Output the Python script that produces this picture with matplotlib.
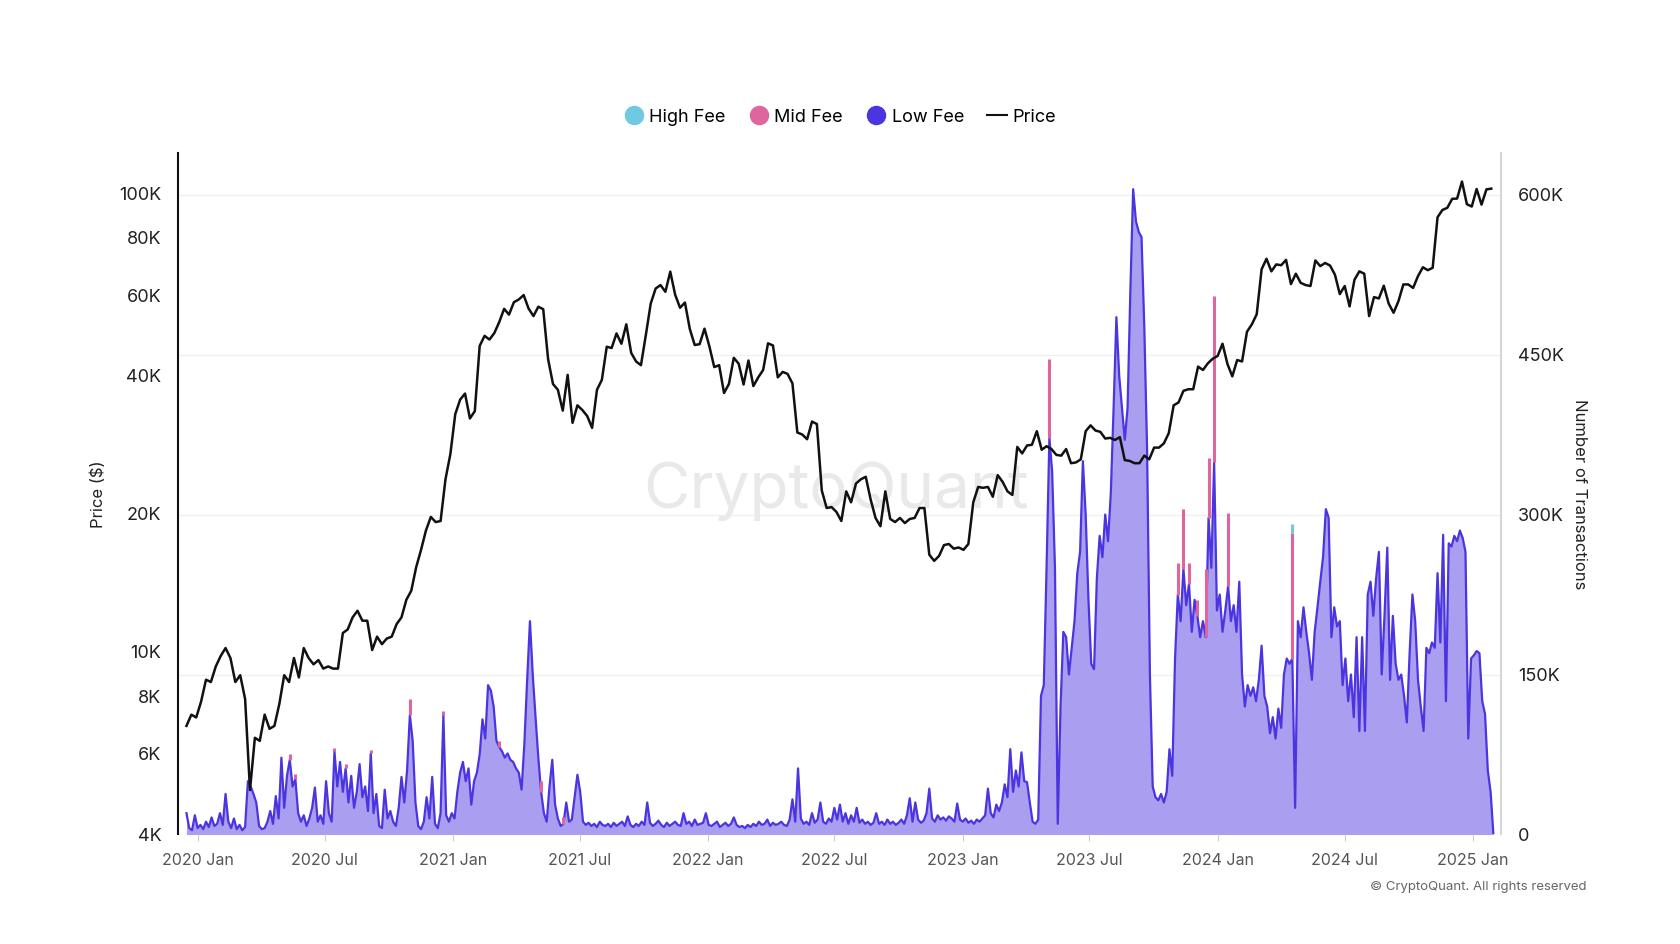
import numpy as np
import pandas as pd
import matplotlib
matplotlib.use('Agg')
import matplotlib.pyplot as plt
from matplotlib.lines import Line2D
from matplotlib.ticker import FixedLocator, FuncFormatter, NullLocator

plt.rcParams['font.family'] = ['Inter', 'DejaVu Sans']

# BTC price, weekly, in thousands of USD
price_start = '2019-12-16'
price_k = [
    6.9, 7.3, 7.2,
    # 2020
    7.8, 8.7, 8.6, 9.3, 9.8, 10.2, 9.7, 8.6, 8.9, 7.9, 5.0, 6.5, 6.4, 7.3, 6.8, 6.9, 7.7, 8.9,
    8.6, 9.7, 8.8, 10.2, 9.7, 9.4, 9.6, 9.2, 9.3, 9.2, 9.2, 11.0, 11.2, 11.9, 12.3, 11.7, 11.7,
    10.1, 10.8, 10.4, 10.7, 10.8, 11.5, 11.9, 13.0, 13.6, 15.3, 16.7, 18.4, 19.7, 19.2, 19.3,
    23.8, 27.0,
    # 2021
    33.0, 35.5, 36.6, 32.3, 33.5, 46.5, 48.9, 48.0, 49.6, 52.4, 56.0, 54.4, 57.9, 58.7, 60.0,
    56.1, 54.0, 56.6, 55.9, 43.5, 38.4, 37.3, 33.6, 40.2, 31.6, 34.5, 33.7, 32.7, 30.8, 37.3,
    39.2, 46.3, 46.0, 49.5, 47.0, 51.8, 44.9, 43.0, 42.2, 49.1, 57.5, 62.0, 63.1, 61.0, 67.5,
    60.1, 56.3, 57.8, 50.6, 46.7, 46.9, 50.7,
    # 2022
    46.4, 41.8, 42.2, 36.7, 38.4, 43.8, 42.5, 38.3, 43.2, 38.0, 39.7, 41.2, 47.1, 46.6, 39.7,
    40.8, 40.4, 38.5, 30.1, 29.8, 29.1, 31.8, 31.4, 22.5, 20.6, 20.7, 20.2, 19.3, 22.4, 21.2,
    23.3, 23.8, 24.1, 21.5, 19.6, 18.8, 22.4, 19.5, 19.2, 19.6, 19.1, 19.5, 19.6, 20.6, 20.6,
    16.3, 15.8, 16.2, 17.1, 17.2, 16.8, 16.9,
    # 2023
    16.7, 17.2, 21.2, 22.9, 22.8, 22.9, 21.8, 24.3, 23.5, 22.4, 22.0, 28.0, 27.1, 28.2, 28.3,
    30.3, 27.6, 28.1, 27.7, 26.9, 26.8, 27.7, 25.8, 25.9, 26.3, 30.3, 31.2, 30.4, 30.2, 29.2,
    29.3, 29.0, 29.4, 26.2, 26.1, 25.8, 25.8, 26.8, 26.3, 27.9, 27.9, 28.5, 30.0, 34.5, 35.0,
    37.1, 37.4, 37.4, 41.9, 41.2, 42.6, 43.6,
    # 2024
    44.2, 47.0, 42.5, 39.9, 43.3, 43.0, 49.9, 51.8, 54.5, 68.3, 72.0, 67.6, 70.0, 69.7, 71.6,
    63.4, 66.8, 63.8, 63.1, 62.8, 71.4, 69.4, 70.5, 69.6, 66.5, 60.3, 62.8, 56.7, 64.8, 67.6,
    66.8, 54.0, 59.4, 59.0, 62.9, 57.5, 54.9, 58.2, 63.3, 63.3, 62.2, 66.0, 69.0, 68.0, 68.8,
    88.7, 92.0, 93.0, 97.3, 97.4, 106.1, 94.7, 93.6,
    # 2025
    102.2, 94.5, 102.0, 102.4,
]

# low fee transactions, one value every 4 days, in thousands
tx_start = '2019-12-16'
low_fee_k = [
    20, 6, 4, 18, 6, 9, 5, 12, 7, 16, 8, 10, 20, 9, 38, 12, 6, 15, 5, 9, 4, 7,
    50, 45, 38, 30, 8, 5, 6, 12, 22, 10, 36, 15, 72, 25, 55, 70, 45, 52, 20, 12, 18, 8, 15, 25, 44,
    12, 18, 10, 50, 20, 12, 78, 45, 68, 40, 62, 30, 55, 25, 40, 66, 35, 45, 22, 76,
    20, 38, 8, 6, 42, 15, 22, 12, 8, 25, 54, 30, 60, 112, 88, 30, 8, 5, 12, 35,
    15, 54, 10, 6, 20, 112, 18, 12, 20,
    15, 40, 58, 68, 50, 62, 28, 50, 58, 75, 108, 90, 140, 135, 120, 88, 82, 78, 72, 76,
    70, 68, 62, 58, 42, 85, 145, 200, 150, 110, 72, 40, 20, 12, 45, 70, 28, 15, 8, 10,
    30, 12, 14, 35, 56,
    40, 12, 9, 11, 8, 10, 7, 12, 9, 8, 10, 7, 11, 8, 10, 12, 8, 17, 9, 7,
    10, 8, 12, 9, 30, 11, 8, 10, 13, 9, 7, 11, 8, 10, 12, 9, 8, 20, 10, 12,
    8, 14, 9, 10, 11, 20, 9, 8, 10, 12, 7, 9, 11, 8, 10, 16, 9, 7, 8, 6,
    9, 7, 10, 8, 12, 9, 10, 14, 8, 11, 9, 10, 12, 9, 8, 14, 33, 12, 62, 15,
    10, 12, 9, 20, 11, 14, 30, 12, 10, 15, 12, 25, 14, 28, 12, 20, 10, 18, 12, 25,
    11, 14, 10, 12, 9, 11, 20, 10, 12, 9, 14, 10, 12, 9, 11, 14, 10, 18, 34, 12,
    30, 14, 11, 13, 20, 43, 15, 12, 18, 14, 16, 13, 17, 15, 12, 29, 14, 12, 15, 11,
    13, 10, 14, 12, 15, 18, 43, 20, 16, 28, 22, 30, 47, 35, 80, 40, 60, 45, 77, 50,
    49, 30, 12, 10, 14, 130, 140, 251, 372, 340,
    250, 10, 120, 190, 185, 150, 175, 200, 245, 265,
    350, 300, 220, 160, 155, 240, 280, 260, 300, 275,
    320, 400, 485, 430, 400, 370, 400, 510, 605, 575,
    565, 560, 475, 360, 150, 45, 35, 32, 38, 30,
    40, 80, 55, 165, 225, 200, 249, 215, 235, 190,
    220, 205, 185, 200, 185, 297, 250, 349, 210, 225,
    190, 210, 233, 200, 215, 190, 237, 150, 120, 140,
    130, 138, 125, 145, 177, 130, 120, 95, 110, 90, 118, 100,
    150, 165, 160, 165, 25, 200, 185, 213, 190, 170,
    145, 190, 213, 237, 260, 305, 297, 185, 213, 195,
    200, 140, 165, 125, 150, 110, 185, 97, 185, 97,
    225, 237, 205, 240, 265, 150, 205, 269, 145, 205,
    160, 145, 150, 130, 105, 170, 225, 200, 145, 120,
    97, 175, 170, 180, 175, 245, 180, 281, 125, 273,
    270, 280, 275, 285, 278, 265, 90, 165, 168, 172,
    170, 125, 113, 60, 40, 0,
]

# mid / high fee transactions on top of low fee, in thousands
mid_fee_dates = ['2020-05-12', '2020-05-20', '2020-07-15', '2020-07-31', '2020-09-05',
                 '2020-10-31', '2020-12-18', '2021-03-08', '2021-05-07', '2021-06-08',
                 '2023-05-06', '2023-11-05', '2023-11-13', '2023-11-21', '2023-12-03',
                 '2023-12-15', '2023-12-19', '2023-12-27', '2024-01-16', '2024-04-17']
mid_fee_k = [5, 5, 3, 4, 3, 15, 4, 6, 10, 6, 74, 30, 56, 20, 15, 64, 56, 156, 68, 118]
high_fee_dates = ['2024-04-17']
high_fee_k = [8]

x_ticks = ['2020-01-01', '2020-07-01', '2021-01-01', '2021-07-01', '2022-01-01', '2022-07-01',
           '2023-01-01', '2023-07-01', '2024-01-01', '2024-07-01', '2025-01-01']
price_ticks = [4000, 6000, 8000, 10000, 20000, 40000, 60000, 80000, 100000]
tx_ticks = [0, 150000, 300000, 450000, 600000]

# build series
price_dates = pd.date_range(price_start, periods=len(price_k), freq='7D')
price = np.array(price_k) * 1000
tx_dates = pd.date_range(tx_start, periods=len(low_fee_k), freq='4D')
low = np.array(low_fee_k, dtype=float) * 1000
mid = np.zeros_like(low)
mid[tx_dates.get_indexer(pd.to_datetime(mid_fee_dates), method='nearest')] = np.array(mid_fee_k) * 1000
high = np.zeros_like(low)
high[tx_dates.get_indexer(pd.to_datetime(high_fee_dates), method='nearest')] = np.array(high_fee_k) * 1000

c_high, c_mid, c_low = '#6fc9e3', '#de659d', '#4a35e0'
c_fill = '#a99ef0'

fig = plt.figure(figsize=(16.8, 9.44), dpi=100)
ax = fig.add_axes([0.106, 0.116, 0.7875, 0.722])
ax2 = ax.twinx()

# transactions (right axis)
ax2.fill_between(tx_dates, 0, low, color=c_fill, lw=0, zorder=2)
ax2.plot(tx_dates, low, color=c_low, lw=1.6, zorder=3)
m = mid > 0
ax2.vlines(tx_dates[m], low[m], (low + mid)[m], color=c_mid, lw=2.2, zorder=4)
h = high > 0
ax2.vlines(tx_dates[h], (low + mid)[h], (low + mid + high)[h], color=c_high, lw=2.2, zorder=4)
ax2.set_ylim(0, 639000)
ax2.yaxis.set_major_locator(FixedLocator(tx_ticks))
ax2.yaxis.set_major_formatter(FuncFormatter(lambda v, p: '0' if v == 0 else f'{int(v / 1000)}K'))
ax2.grid(axis='y', color='#f0f0f0', lw=1)
ax2.set_axisbelow(True)
ax2.tick_params(axis='y', length=0, pad=12, labelsize=13, labelcolor='#222')
ax2.text(0.497, 0.504, 'CryptoQuant', transform=ax2.transAxes, ha='center', va='center',
         fontsize=46, color='#e9e9e9', zorder=1)

# price (left axis, log)
ax.plot(price_dates, price, color='#111111', lw=1.8, zorder=5)
ax.set_yscale('log')
ax.set_ylim(4000, 122500)
ax.yaxis.set_major_locator(FixedLocator(price_ticks))
ax.yaxis.set_minor_locator(NullLocator())
ax.yaxis.set_major_formatter(FuncFormatter(lambda v, p: f'{int(round(v / 1000))}K'))
ax.tick_params(axis='y', length=0, pad=12, labelsize=13, labelcolor='#222')
ax.set_zorder(ax2.get_zorder() + 1)
ax.patch.set_visible(False)

ax.set_xlim(pd.Timestamp('2019-12-04'), pd.Timestamp('2025-02-10'))
tick_dates = pd.to_datetime(x_ticks)
ax.set_xticks(tick_dates)
ax.set_xticklabels([d.strftime('%Y %b') for d in tick_dates])
ax.tick_params(axis='x', length=5, color='#cccccc', labelsize=11.5, labelcolor='#555', pad=8)

for s in ['top', 'right', 'bottom']:
    ax.spines[s].set_visible(False)
ax.spines['left'].set_color('#111')
ax.spines['left'].set_linewidth(1.5)
for s in ['top', 'left', 'bottom']:
    ax2.spines[s].set_visible(False)
ax2.spines['right'].set_color('#d6d6d6')
ax2.spines['right'].set_linewidth(1.5)

fig.text(0.0587, 0.4767, 'Price ($)', rotation=90, ha='center', va='center', fontsize=12, color='#222')
fig.text(0.94, 0.4767, 'Number of Transactions', rotation=270, ha='center', va='center',
         fontsize=12, color='#222')

handles = [
    Line2D([], [], marker='o', ls='', markersize=13, color=c_high),
    Line2D([], [], marker='o', ls='', markersize=13, color=c_mid),
    Line2D([], [], marker='o', ls='', markersize=13, color=c_low),
    Line2D([], [], color='#111', lw=1.5),
]
fig.legend(handles, ['High Fee', 'Mid Fee', 'Low Fee', 'Price'], loc='center',
           bbox_to_anchor=(0.5, 0.876), ncol=4, frameon=False, fontsize=13,
           handlelength=1.1, handletextpad=0.3, columnspacing=1.3)

fig.text(0.9446, 0.0604, '\u00a9 CryptoQuant. All rights reserved', ha='right', va='center',
         fontsize=9.5, color='#666')

fig.savefig('out.png', dpi=100)
